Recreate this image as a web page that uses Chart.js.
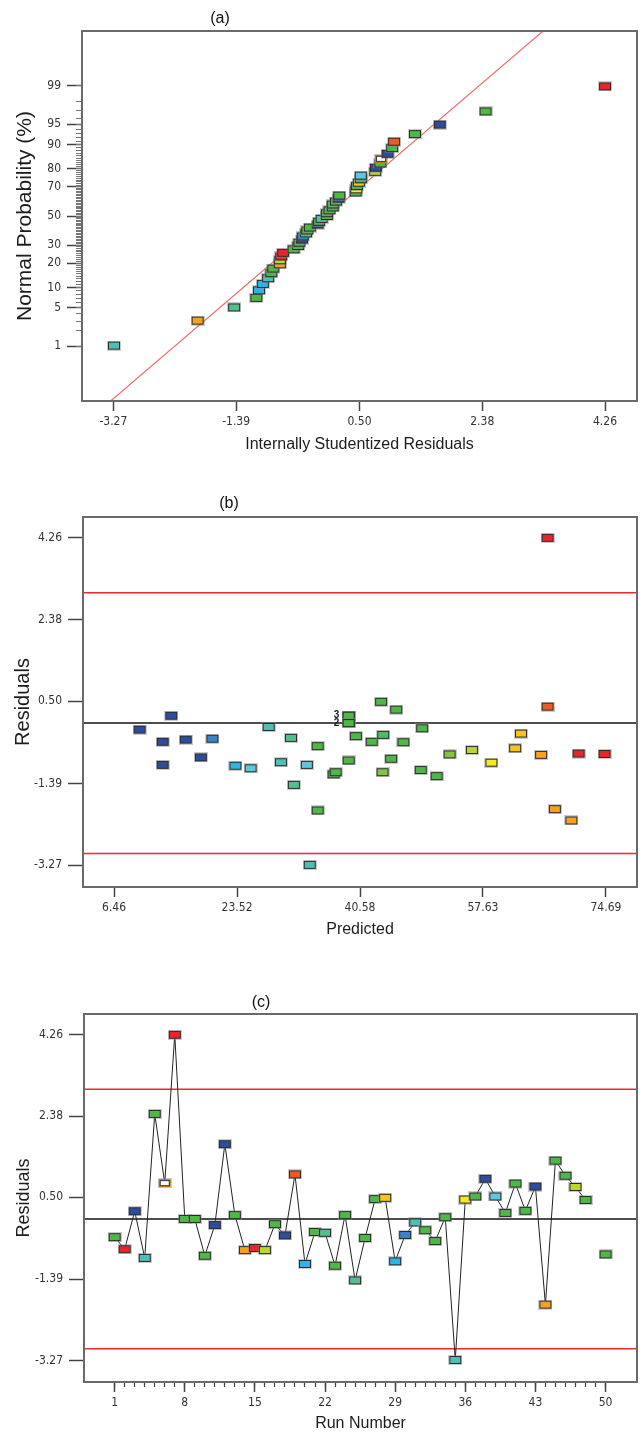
<!DOCTYPE html>
<html>
<head>
<meta charset="utf-8">
<title>Residual diagnostics</title>
<script src="https://cdn.jsdelivr.net/npm/chart.js@4.4.1/dist/chart.umd.min.js"></script>
<style>
  html, body { margin: 0; padding: 0; background: #fff; }
  body { width: 643px; height: 1434px; position: relative; overflow: hidden; font-family: 'Liberation Sans', Arial, sans-serif; }
  .panel { position: absolute; left: 0; width: 643px; }
  .panel canvas { display: block; }
  .tag { position: absolute; font-size: 16px; color: #111; transform: translate(-50%, -50%); white-space: nowrap; }
</style>
</head>
<body>
<div class="panel" style="top:0;height:470px">
  <canvas id="probPlot" width="643" height="470"></canvas>
  <div class="tag" style="left:220px;top:18px">(a)</div>
</div>
<div class="panel" style="top:480px;height:460px">
  <canvas id="predPlot" width="643" height="460"></canvas>
  <div class="tag" style="left:229px;top:23px">(b)</div>
</div>
<div class="panel" style="top:950px;height:484px">
  <canvas id="runPlot" width="643" height="484"></canvas>
  <div class="tag" style="left:261px;top:52px">(c)</div>
</div>
<script>
// run order residuals (run 49 has no point)
var runNumbers = [1, 2, 3, 4, 5, 6, 7, 8, 9, 10, 11, 12, 13, 14, 15, 16, 17, 18, 19, 20,
                  21, 22, 23, 24, 25, 26, 27, 28, 29, 30, 31, 32, 33, 34, 35, 36, 37, 38, 39, 40,
                  41, 42, 43, 44, 45, 46, 47, 48, 49, 50];
var runResiduals = [-0.42, -0.70, 0.18, -0.90, 2.43, 0.83, 4.26, 0.00, 0.00, -0.85,
                    -0.14, 1.73, 0.09, -0.72, -0.67, -0.72, -0.12, -0.38, 1.03, -1.04,
                    -0.30, -0.32, -1.08, 0.09, -1.42, -0.44, 0.46, 0.49, -0.98, -0.37,
                    -0.08, -0.26, -0.51, 0.04, -3.26, 0.45, 0.52, 0.93, 0.52, 0.14,
                    0.82, 0.19, 0.75, -1.98, 1.35, 1.00, 0.74, 0.44, null, -0.82];
var runColors = ['green', 'red', 'darkBlue', 'teal', 'green', 'hollow', 'red', 'green', 'green', 'green',
                 'darkBlue', 'darkBlue', 'green', 'orange', 'red', 'yellowGreen', 'green', 'darkBlue', 'orangeRed', 'cyan',
                 'green', 'tealGreen', 'green', 'green', 'tealGreen', 'green', 'green', 'gold', 'cyan', 'steelBlue',
                 'teal', 'green', 'green', 'green', 'teal', 'yellow', 'green', 'darkBlue', 'lightCyan', 'green',
                 'green', 'green', 'darkBlue', 'orange', 'green', 'green', 'yellowGreen', 'green', null, 'green'];

// normal probability (%) by rank
var normalProb = [1.02, 3.06, 5.10, 7.14, 9.18, 11.22, 13.27, 15.31, 17.35, 19.39,
                  21.43, 23.47, 25.51, 27.55, 29.59, 31.63, 33.67, 35.71, 37.76, 39.80,
                  41.84, 43.88, 45.92, 47.96, 50.00, 52.04, 54.08, 56.12, 58.16, 60.20,
                  62.24, 64.29, 66.33, 68.37, 70.41, 72.45, 74.49, 76.53, 78.57, 80.61,
                  82.65, 84.69, 86.73, 88.78, 90.82, 92.86, 94.90, 96.94, 98.98];
var refLineX = [-3.6, 3.6];
var refLineProb = [0.016, 99.984];

// residuals vs predicted
var predValues = [10.0, 13.2, 13.2, 14.4, 16.4, 18.5, 20.1, 23.3, 25.4, 27.9,
                  29.6, 31.0, 31.4, 33.2, 33.6, 34.7, 34.7, 36.9, 37.2, 39.0,
                  39.0, 39.0, 39.0, 39.0, 39.0, 40.0, 42.2, 43.5, 43.8, 43.7,
                  44.9, 45.6, 46.6, 49.2, 49.0, 51.2, 53.0, 56.1, 58.8, 62.1,
                  62.9, 65.7, 66.6, 66.6, 67.6, 69.9, 70.9, 74.5];
var predResiduals = [-0.15, -0.43, -0.96, 0.17, -0.38, -0.79, -0.36, -0.98, -1.04, -0.09,
                     -0.90, -0.34, -1.42, -0.96, -3.26, -0.53, -2.01, -1.18, -1.13, 0.17,
                     0.17, 0.17, 0.00, 0.00, -0.86, -0.30, -0.43, 0.49, -0.27, -1.13,
                     -0.82, 0.31, -0.44, -0.12, -1.08, -1.22, -0.72, -0.62, -0.91, -0.58,
                     -0.24, -0.73, 4.26, 0.38, -1.98, -2.24, -0.70, -0.71];
var predColors = ['darkBlue', 'darkBlue', 'darkBlue', 'darkBlue', 'darkBlue', 'darkBlue', 'steelBlue', 'cyan', 'lightCyan', 'teal',
                  'teal', 'tealGreen', 'tealGreen', 'lightCyan', 'teal', 'green', 'green', 'green', 'green', 'green',
                  'green', 'green', 'green', 'green', 'green', 'green', 'green', 'green', 'midGreen', 'lightGreen',
                  'green', 'green', 'green', 'green', 'green', 'green', 'lightGreen', 'yellowGreen', 'yellow', 'gold',
                  'gold', 'orange', 'red', 'orangeRed', 'orange', 'orange', 'red', 'red'];

var residualTicks = [-3.27, -1.39, 0.50, 2.38, 4.26];
var predTicks = [6.46, 23.52, 40.58, 57.63, 74.69];
var runTicks = [1, 8, 15, 22, 29, 36, 43, 50];
var probTicks = [1, 5, 10, 20, 30, 50, 70, 80, 90, 95, 99];
var controlLimits = [-3.0, 3.0];

var palette = {
    darkBlue: '#2d4c9c', steelBlue: '#3a84c8', cyan: '#2db3e8', lightCyan: '#5cc7dd',
    teal: '#4fbeb4', tealGreen: '#55be8f', midGreen: '#4dbb69', green: '#4fb748',
    lightGreen: '#84c341', yellowGreen: '#bdd531', yellow: '#f3ec1a', gold: '#f6c41a',
    orange: '#f7a11f', orangeRed: '#ef5a24', red: '#e8252b'
};

var tickFont = { family: "'Liberation Sans Narrow', 'DejaVu Sans Condensed', 'Liberation Sans', sans-serif", size: 12 };
var titleFamily = "'Liberation Sans', Arial, sans-serif";

// inverse normal CDF (Acklam)
function probit(p) {
    var a = [-39.69683028665376, 220.9460984245205, -275.9285104469687, 138.3577518672690, -30.66479806614716, 2.506628277459239];
    var b = [-54.47609879822406, 161.5858368580409, -155.6989798598866, 66.80131188771972, -13.28068155288572];
    var c = [-0.007784894002430293, -0.3223964580411365, -2.400758277161838, -2.549732539343734, 4.374664141464968, 2.938163982698783];
    var d = [0.007784695709041462, 0.3224671290700398, 2.445134137142996, 3.754408661907416];
    var q, r;
    if (p < 0.02425) {
        q = Math.sqrt(-2 * Math.log(p));
        return (((((c[0] * q + c[1]) * q + c[2]) * q + c[3]) * q + c[4]) * q + c[5]) / ((((d[0] * q + d[1]) * q + d[2]) * q + d[3]) * q + 1);
    }
    if (p > 1 - 0.02425) {
        q = Math.sqrt(-2 * Math.log(1 - p));
        return -(((((c[0] * q + c[1]) * q + c[2]) * q + c[3]) * q + c[4]) * q + c[5]) / ((((d[0] * q + d[1]) * q + d[2]) * q + d[3]) * q + 1);
    }
    q = p - 0.5;
    r = q * q;
    return (((((a[0] * r + a[1]) * r + a[2]) * r + a[3]) * r + a[4]) * r + a[5]) * q / (((((b[0] * r + b[1]) * r + b[2]) * r + b[3]) * r + b[4]) * r + 1);
}

function normCdf(z) {
    var t = 1 / (1 + 0.3275911 * Math.abs(z) / Math.SQRT2);
    var y = 1 - (((((1.061405429 * t - 1.453152027) * t) + 1.421413741) * t - 0.284496736) * t + 0.254829592) * t * Math.exp(-z * z / 2);
    return z >= 0 ? (1 + y) / 2 : (1 - y) / 2;
}

// normal probability axis, values in percent
class ProbitScale extends Chart.Scale {
    determineDataLimits() {
        this.min = this.options.min;
        this.max = this.options.max;
    }
    buildTicks() {
        return [];
    }
    getLabelForValue(v) {
        return String(v);
    }
    configure() {
        super.configure();
        this._zMin = probit(this.min / 100);
        this._zMax = probit(this.max / 100);
    }
    getPixelForValue(v) {
        if (v === null || v === undefined || isNaN(v)) {
            return NaN;
        }
        var z = probit(v / 100);
        return this.getPixelForDecimal((z - this._zMin) / (this._zMax - this._zMin));
    }
    getValueForPixel(px) {
        var z = this._zMin + this.getDecimalForPixel(px) * (this._zMax - this._zMin);
        return normCdf(z) * 100;
    }
}
ProbitScale.id = 'probit';
ProbitScale.defaults = {};
Chart.register(ProbitScale);

var framePlugin = {
    id: 'frame',
    afterDatasetsDraw: function (chart) {
        var a = chart.chartArea, ctx = chart.ctx;
        ctx.save();
        ctx.strokeStyle = '#6a6a6a';
        ctx.lineWidth = 2;
        ctx.strokeRect(a.left, a.top, a.right - a.left, a.bottom - a.top);
        ctx.restore();
    }
};

// prints the number of coincident points next to them
var overlapPlugin = {
    id: 'overlapCount',
    afterDatasetsDraw: function (chart) {
        var ds = chart.data.datasets[0].data;
        var meta = chart.getDatasetMeta(0);
        var seen = {}, ctx = chart.ctx, i, key;
        for (i = 0; i < ds.length; i++) {
            key = ds[i].x + '|' + ds[i].y;
            seen[key] = seen[key] ? seen[key] + 1 : 1;
        }
        ctx.save();
        ctx.font = 'bold 10px ' + titleFamily;
        ctx.fillStyle = '#222';
        ctx.textAlign = 'center';
        ctx.textBaseline = 'middle';
        for (i = 0; i < ds.length; i++) {
            key = ds[i].x + '|' + ds[i].y;
            if (seen[key] > 1) {
                ctx.fillText(String(seen[key]), meta.data[i].x - 12, meta.data[i].y);
                seen[key] = 0;
            }
        }
        ctx.restore();
    }
};

function ResidualPlots() {
    this.markerCache = {};
}

ResidualPlots.prototype = {
    constructor: ResidualPlots,

    _getCtx: function (canvasElementId) {
        return document.getElementById(canvasElementId).getContext('2d');
    },

    _marker: function (name) {
        if (!name) {
            return false;
        }
        if (this.markerCache[name]) {
            return this.markerCache[name];
        }
        var c = document.createElement('canvas');
        c.width = 14;
        c.height = 10;
        var g = c.getContext('2d');
        g.fillStyle = 'rgba(140,140,140,0.45)';
        g.fillRect(0, 0, 14, 10);
        if (name === 'hollow') {
            g.fillStyle = '#c27a1e';
            g.fillRect(1, 1, 12, 8);
            g.fillStyle = '#3a3a3a';
            g.fillRect(2, 2, 10, 6);
            g.fillStyle = '#ffffff';
            g.fillRect(3, 3, 8, 4);
        } else {
            g.fillStyle = '#2b2b2b';
            g.fillRect(1, 1, 12, 8);
            g.fillStyle = palette[name];
            g.fillRect(2, 2, 10, 6);
        }
        this.markerCache[name] = c;
        return c;
    },

    _fixedTicks: function (values) {
        return function (scale) {
            scale.ticks = values.map(function (v) { return { value: v }; });
        };
    },

    _residualAxis: function (width, titleSize, titlePad) {
        return {
            type: 'linear', position: 'left', min: -3.77, max: 4.74, bounds: 'data', weight: 1,
            afterBuildTicks: this._fixedTicks(residualTicks),
            afterFit: function (s) { s.width = width; },
            grid: { drawOnChartArea: false, tickLength: 15, tickColor: '#444', tickWidth: 1.5 },
            border: { display: false },
            ticks: { font: tickFont, color: '#333', padding: 6, autoSkip: false,
                     callback: function (v) { return v.toFixed(2); } },
            title: { display: true, text: 'Residuals', color: '#1d1d1d',
                     font: { family: titleFamily, size: titleSize }, padding: { top: titlePad, bottom: 0 } }
        };
    },

    _limitLines: function (xMin, xMax) {
        var sets = [{
            data: [{ x: xMin, y: 0 }, { x: xMax, y: 0 }],
            showLine: true, borderColor: '#4d4d4d', borderWidth: 2, pointRadius: 0
        }];
        controlLimits.forEach(function (lim) {
            sets.push({
                data: [{ x: xMin, y: lim }, { x: xMax, y: lim }],
                showLine: true, borderColor: '#ee2b2b', borderWidth: 1.5, pointRadius: 0
            });
        });
        return sets;
    },

    _createProbPlot: function () {
        var self = this;
        var order = [];
        runResiduals.forEach(function (r, i) { if (r !== null) { order.push(i); } });
        order.sort(function (a, b) { return runResiduals[a] - runResiduals[b]; });
        var points = order.map(function (idx, k) { return { x: runResiduals[idx], y: normalProb[k] }; });
        var styles = order.map(function (idx) { return self._marker(runColors[idx]); });
        var refLine = refLineX.map(function (x, i) { return { x: x, y: refLineProb[i] }; });
        var minorProb = [];
        for (var p = 1; p < 100; p++) { minorProb.push(p); }

        new Chart(this._getCtx('probPlot'), {
            type: 'scatter',
            data: {
                datasets: [
                    { data: points, pointRadius: 5, pointStyle: function (ctx) { return styles[ctx.dataIndex]; } },
                    { data: refLine, showLine: true, borderColor: '#ef6b6b', borderWidth: 1.2, pointRadius: 0 }
                ]
            },
            options: {
                responsive: false, animation: false, events: [],
                layout: { padding: { top: 31, right: 4, bottom: 0, left: 0 } },
                plugins: { legend: { display: false }, tooltip: { enabled: false } },
                scales: {
                    x: {
                        type: 'linear', position: 'bottom', min: -3.75, max: 4.75, bounds: 'data',
                        afterBuildTicks: this._fixedTicks(residualTicks),
                        afterFit: function (s) { s.height = 69; },
                        grid: { drawOnChartArea: false, tickLength: 10, tickColor: '#444', tickWidth: 1.5 },
                        border: { display: false },
                        ticks: { font: tickFont, color: '#333', padding: 4, autoSkip: false, maxRotation: 0,
                                 callback: function (v) { return v.toFixed(2); } },
                        title: { display: true, text: 'Internally Studentized Residuals', color: '#1d1d1d',
                                 font: { family: titleFamily, size: 16 }, padding: { top: 0, bottom: 16 } }
                    },
                    y: {
                        type: 'probit', axis: 'y', position: 'left', min: 0.0466, max: 99.9534, weight: 1,
                        afterBuildTicks: this._fixedTicks(probTicks),
                        afterFit: function (s) { s.width = 82; },
                        grid: { drawOnChartArea: false, tickLength: 15, tickColor: '#444', tickWidth: 1.5 },
                        border: { display: false },
                        ticks: { font: tickFont, color: '#333', padding: 6, autoSkip: false,
                                 callback: function (v) { return String(v); } },
                        title: { display: true, text: 'Normal Probability (%)', color: '#1d1d1d',
                                 font: { family: titleFamily, size: 21 }, padding: { top: 13, bottom: 0 } }
                    },
                    yMinor: {
                        type: 'probit', axis: 'y', position: 'left', min: 0.0466, max: 99.9534, weight: 0,
                        afterBuildTicks: this._fixedTicks(minorProb),
                        afterFit: function (s) { s.width = 0; },
                        grid: { drawOnChartArea: false, tickLength: 6, tickColor: '#777', tickWidth: 1 },
                        border: { display: false },
                        ticks: { display: false }
                    }
                }
            },
            plugins: [framePlugin]
        });
    },

    _createPredictedPlot: function () {
        var self = this;
        var xMin = 2.15, xMax = 79.0;
        var points = predValues.map(function (x, i) { return { x: x, y: predResiduals[i] }; });
        var styles = predColors.map(function (c) { return self._marker(c); });
        var datasets = [{ data: points, pointRadius: 5, pointStyle: function (ctx) { return styles[ctx.dataIndex]; } }]
            .concat(this._limitLines(xMin, xMax));

        new Chart(this._getCtx('predPlot'), {
            type: 'scatter',
            data: { datasets: datasets },
            options: {
                responsive: false, animation: false, events: [],
                layout: { padding: { top: 37, right: 4, bottom: 0, left: 0 } },
                plugins: { legend: { display: false }, tooltip: { enabled: false } },
                scales: {
                    x: {
                        type: 'linear', position: 'bottom', min: xMin, max: xMax, bounds: 'data',
                        afterBuildTicks: this._fixedTicks(predTicks),
                        afterFit: function (s) { s.height = 53; },
                        grid: { drawOnChartArea: false, tickLength: 10, tickColor: '#444', tickWidth: 1.5 },
                        border: { display: false },
                        ticks: { font: tickFont, color: '#333', padding: 4, autoSkip: false, maxRotation: 0,
                                 callback: function (v) { return v.toFixed(2); } },
                        title: { display: true, text: 'Predicted', color: '#1d1d1d',
                                 font: { family: titleFamily, size: 16 }, padding: { top: 0, bottom: 1 } }
                    },
                    y: this._residualAxis(83, 20, 11)
                }
            },
            plugins: [framePlugin, overlapPlugin]
        });
    },

    _createRunPlot: function () {
        var self = this;
        var xMin = -2.06, xMax = 53.14;
        var points = runNumbers.map(function (n, i) { return { x: n, y: runResiduals[i] }; });
        var styles = runColors.map(function (c) { return self._marker(c); });
        var datasets = [{
            data: points, showLine: true, borderColor: '#222', borderWidth: 1, spanGaps: false,
            pointRadius: 5, pointStyle: function (ctx) { return styles[ctx.dataIndex]; }
        }].concat(this._limitLines(xMin, xMax));

        new Chart(this._getCtx('runPlot'), {
            type: 'scatter',
            data: { datasets: datasets },
            options: {
                responsive: false, animation: false, events: [],
                layout: { padding: { top: 64, right: 4, bottom: 0, left: 0 } },
                plugins: { legend: { display: false }, tooltip: { enabled: false } },
                scales: {
                    x: {
                        type: 'linear', position: 'bottom', min: xMin, max: xMax, bounds: 'data', weight: 1,
                        afterBuildTicks: this._fixedTicks(runTicks),
                        afterFit: function (s) { s.height = 52; },
                        grid: { drawOnChartArea: false, tickLength: 10, tickColor: '#444', tickWidth: 1.5 },
                        border: { display: false },
                        ticks: { font: tickFont, color: '#333', padding: 4, autoSkip: false, maxRotation: 0,
                                 callback: function (v) { return String(v); } },
                        title: { display: true, text: 'Run Number', color: '#1d1d1d',
                                 font: { family: titleFamily, size: 16 }, padding: { top: 0, bottom: 1 } }
                    },
                    xMinor: {
                        type: 'linear', axis: 'x', position: 'bottom', min: xMin, max: xMax, bounds: 'data', weight: 0,
                        afterBuildTicks: this._fixedTicks(runNumbers),
                        afterFit: function (s) { s.height = 0; },
                        grid: { drawOnChartArea: false, tickLength: 5, tickColor: '#444', tickWidth: 1.2 },
                        border: { display: false },
                        ticks: { display: false }
                    },
                    y: this._residualAxis(84, 18, 13)
                }
            },
            plugins: [framePlugin]
        });
    },

    draw: function () {
        this._createProbPlot();
        this._createPredictedPlot();
        this._createRunPlot();
    }
};

new ResidualPlots().draw();
</script>
</body>
</html>
